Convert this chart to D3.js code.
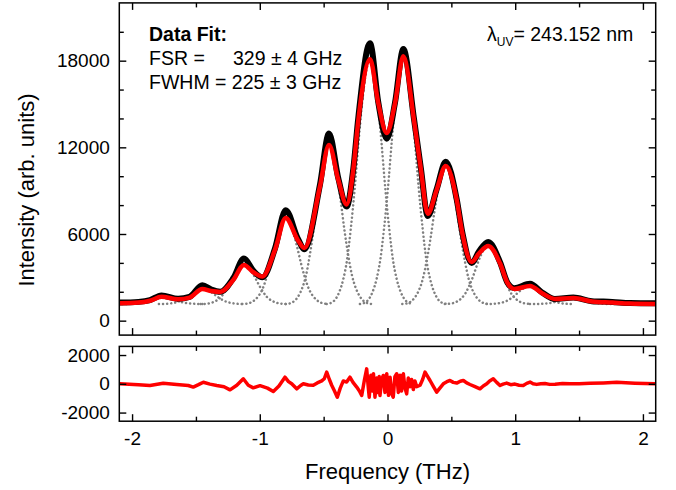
<!DOCTYPE html>
<html>
<head>
<meta charset="utf-8">
<script src="https://cdn.jsdelivr.net/npm/d3@7/dist/d3.min.js"></script>
<style>
    body { margin: 0; background: #ffffff; }
    svg { display: block; font-family: "Liberation Sans", Arial, sans-serif; }
    .tick line { stroke: #000; stroke-width: 1.4; }
</style>
</head>
<body>
<div id="chart"></div>
<script>
// Values (frequency in THz, intensity in counts)
const freqTHz = [-2.10, -1.95, -1.86, -1.77, -1.64, -1.55, -1.45, -1.38, -1.31, -1.207, -1.124, -1.05, -0.98,
    -0.881, -0.797, -0.703, -0.651, -0.529, -0.458, -0.385, -0.32, -0.268, -0.228, -0.137, -0.072, -0.006,
    0.059, 0.124, 0.207, 0.262, 0.315, 0.385, 0.456, 0.542, 0.586, 0.659, 0.717, 0.789, 0.881, 0.941, 0.993,
    1.116, 1.21, 1.31, 1.455, 1.6, 1.76, 1.9, 2.1];

const dataCounts = [1250, 1300, 1420, 1750, 1520, 1650, 2450, 2150, 2000, 2950, 4300, 3450, 3000,
    5000, 7650, 5700, 4950, 9400, 12950, 9850, 7900, 10500, 14100, 19200, 15100, 12600,
    15100, 18800, 14000, 10500, 7250, 9100, 11000, 8400, 6100, 4000, 4800, 5450, 4050, 2600, 2250,
    2550, 1950, 1500, 1600, 1350, 1300, 1220, 1200];

const fitCounts = [1200, 1250, 1380, 1650, 1480, 1600, 2200, 2050, 1990, 2820, 3860, 3350, 3050,
    4900, 7110, 5590, 5030, 9280, 12160, 9740, 8050, 10430, 13900, 18100, 15050, 13000,
    15050, 18300, 13900, 10430, 7400, 9050, 10710, 8360, 6050, 4060, 4665, 5170, 3970, 2590, 2190,
    2400, 1900, 1500, 1570, 1330, 1250, 1180, 1150];

// single fitted lines (dotted)
const peakCenters = [-1.77, -1.45, -1.124, -0.797, -0.458, -0.137, 0.124, 0.456, 0.789, 1.116, 1.455];
const peakHeights = [1650, 2200, 3860, 7110, 12160, 18100, 18300, 10710, 5170, 2400, 1570];
const baselineCounts = 1150;
const profileOffset = [-0.34, -0.30, -0.27, -0.24, -0.21, -0.18, -0.15, -0.12, -0.09, -0.06, -0.03, 0,
    0.03, 0.06, 0.09, 0.12, 0.15, 0.18, 0.21, 0.24, 0.27, 0.30, 0.34];
const profileFraction = [0, 0.006, 0.02, 0.05, 0.10, 0.18, 0.31, 0.47, 0.66, 0.83, 0.95, 1,
    0.95, 0.83, 0.66, 0.47, 0.31, 0.18, 0.10, 0.05, 0.02, 0.006, 0];

// residuals (data - fit)
const residualFreq = [-2.095, -1.95, -1.86, -1.756, -1.651, -1.56, -1.521, -1.48, -1.442, -1.39, -1.337, -1.28,
    -1.233, -1.18, -1.129, -1.09, -1.051, -0.998, -0.94, -0.894, -0.85, -0.803, -0.775, -0.75, -0.711,
    -0.68, -0.659, -0.62, -0.581, -0.55, -0.515, -0.495, -0.476, -0.455, -0.437, -0.415, -0.393, -0.37,
    -0.346, -0.32, -0.294, -0.27, -0.241, -0.22, -0.202, -0.18, -0.163, -0.15, -0.143, -0.13, -0.121,
    -0.11, -0.098, -0.085, -0.078, -0.065, -0.059, -0.045, -0.033, -0.02, -0.006, 0.008, 0.02, 0.033,
    0.045, 0.058, 0.072, 0.085, 0.098, 0.11, 0.124, 0.137, 0.15, 0.163, 0.176, 0.189, 0.202, 0.215,
    0.229, 0.255, 0.275, 0.294, 0.315, 0.333, 0.36, 0.385, 0.41, 0.437, 0.465, 0.489, 0.515, 0.542,
    0.57, 0.594, 0.62, 0.646, 0.685, 0.724, 0.75, 0.777, 0.8, 0.828, 0.855, 0.881, 0.905, 0.933, 0.965,
    0.998, 1.03, 1.063, 1.09, 1.116, 1.14, 1.168, 1.2, 1.233, 1.27, 1.312, 1.37, 1.429, 1.5, 1.586,
    1.69, 1.795, 1.938, 2.095];
const residualCounts = [0, -60, -120, 40, -50, -120, -230, -60, 110, -20, -120, -200,
    -420, -100, 350, -100, -280, -130, -300, -530, -150, 460, 150, 0, -350,
    -120, 0, -80, -100, 60, 200, 350, 810, 300, -100, -500, -930, -300,
    200, 120, 460, 100, -230, -500, -810, 300, 1040, -300, -930, 600, -500,
    700, -930, 400, -600, 500, -810, 300, 580, -600, 700, -800, 460, -700,
    -930, 500, 700, -600, 600, -500, 700, -300, -700, 400, -200, 300, -400, 200,
    -200, -100, 300, 810, 500, 230, -200, -580, -300, 0, 150, 230, 100, 50,
    180, 230, 60, -50, -200, -350, -150, 0, 200, 350, 100, -120, -20, 50, -60,
    -20, -100, -120, 30, 120, 0, -40, 10, 20, -40, -30, 20, 10, 0, 40,
    60, 100, 40, 0];

const xTicks = [-2, -1, 0, 1, 2];
const xMinorTicks = [-1.5, -0.5, 0.5, 1.5];
const yTicks = [0, 6000, 12000, 18000];
const yMinorTicks = [2000, 4000, 8000, 10000, 14000, 16000, 20000];
const residualTicks = [-2000, 0, 2000];

const width = 676;
const height = 490;
const left = 119.3;
const right = 655.7;
const main = { top: 2.9, bottom: 335.1 };
const resid = { top: 346.4, bottom: 421.2 };

const svg = d3.select('#chart')
    .append('svg')
    .attr('width', width)
    .attr('height', height);

const x = d3.scaleLinear().domain([-2.1, 2.1]).range([left, right]);
const y = d3.scaleLinear().domain([-1000, 22000]).range([main.bottom, main.top]);
const yRes = d3.scaleLinear().domain([-2600, 2600]).range([resid.bottom, resid.top]);

const defs = svg.append('defs');
defs.append('clipPath').attr('id', 'clip-main')
    .append('rect')
    .attr('x', left).attr('y', main.top)
    .attr('width', right - left).attr('height', main.bottom - main.top);
defs.append('clipPath').attr('id', 'clip-res')
    .append('rect')
    .attr('x', left).attr('y', resid.top)
    .attr('width', right - left).attr('height', resid.bottom - resid.top);

// main panel curves
const plot = svg.append('g').attr('clip-path', 'url(#clip-main)');

const compLine = d3.line()
    .x((d) => x(d[0]))
    .y((d) => y(d[1]))
    .curve(d3.curveMonotoneX);

peakCenters.forEach((center, i) => {
    const points = profileOffset.map((off, j) => [
        center + off,
        baselineCounts + profileFraction[j] * (peakHeights[i] - baselineCounts),
    ]);
    plot.append('path')
        .attr('d', compLine(points))
        .attr('fill', 'none')
        .attr('stroke', '#808080')
        .attr('stroke-width', 2.5)
        .attr('stroke-linecap', 'round')
        .attr('stroke-dasharray', '0.1 4');
});

const spectrum = d3.line()
    .x((d, i) => x(freqTHz[i]))
    .y((d) => y(d))
    .curve(d3.curveMonotoneX);

plot.append('path')
    .attr('d', spectrum(dataCounts))
    .attr('fill', 'none')
    .attr('stroke', '#000000')
    .attr('stroke-width', 6)
    .attr('stroke-linejoin', 'round');

plot.append('path')
    .attr('d', spectrum(fitCounts))
    .attr('fill', 'none')
    .attr('stroke', '#ff0000')
    .attr('stroke-width', 4.5)
    .attr('stroke-linejoin', 'round');

// residual panel
const resLine = d3.line()
    .x((d, i) => x(residualFreq[i]))
    .y((d) => yRes(d));

svg.append('g').attr('clip-path', 'url(#clip-res)')
    .append('path')
    .attr('d', resLine(residualCounts))
    .attr('fill', 'none')
    .attr('stroke', '#ff0000')
    .attr('stroke-width', 3.5)
    .attr('stroke-linejoin', 'round');

// axes: inward ticks on all four sides
function addAxis(axis, tx, ty) {
    const g = svg.append('g')
        .attr('transform', `translate(${tx}, ${ty})`)
        .call(axis);
    g.select('.domain').remove();
    g.selectAll('text')
        .attr('fill', '#000')
        .style('font-size', '19px');
    return g;
}

const noLabel = () => '';
const plainNumber = (d) => (d < 0 ? '-' : '') + Math.abs(d);

function frameAxes(yScale, top, bottom, majors, minors, showX) {
    addAxis(d3.axisTop(x).tickValues(xTicks).tickSize(-7).tickFormat(noLabel), 0, top);
    addAxis(d3.axisTop(x).tickValues(xMinorTicks).tickSize(-4.5).tickFormat(noLabel), 0, top);

    addAxis(d3.axisBottom(x).tickValues(xTicks).tickSize(-7).tickPadding(10.5)
        .tickFormat(showX ? plainNumber : noLabel), 0, bottom);
    addAxis(d3.axisBottom(x).tickValues(xMinorTicks).tickSize(-4.5).tickFormat(noLabel), 0, bottom);

    addAxis(d3.axisLeft(yScale).tickValues(majors).tickSize(-7).tickPadding(9.5)
        .tickFormat(plainNumber), left, 0);
    addAxis(d3.axisRight(yScale).tickValues(majors).tickSize(-7).tickFormat(noLabel), right, 0);

    if (minors.length) {
        addAxis(d3.axisLeft(yScale).tickValues(minors).tickSize(-4.5).tickFormat(noLabel), left, 0);
        addAxis(d3.axisRight(yScale).tickValues(minors).tickSize(-4.5).tickFormat(noLabel), right, 0);
    }

    svg.append('rect')
        .attr('x', left).attr('y', top)
        .attr('width', right - left).attr('height', bottom - top)
        .attr('fill', 'none')
        .attr('stroke', '#000')
        .attr('stroke-width', 1.5);
}

frameAxes(y, main.top, main.bottom, yTicks, yMinorTicks, false);
frameAxes(yRes, resid.top, resid.bottom, residualTicks, [], true);

// axis titles
svg.append('text')
    .attr('x', x(0))
    .attr('y', 479)
    .attr('text-anchor', 'middle')
    .style('font-size', '22px')
    .text('Frequency (THz)');

svg.append('text')
    .attr('transform', 'translate(34, 190) rotate(-90)')
    .attr('text-anchor', 'middle')
    .style('font-size', '22px')
    .text('Intensity (arb. units)');

// annotations
const notes = svg.append('g').style('font-size', '19.5px');
notes.append('text').attr('x', 149).attr('y', 41)
    .style('font-weight', 'bold').text('Data Fit:');
notes.append('text').attr('x', 149).attr('y', 65).text('FSR =');
notes.append('text').attr('x', 233).attr('y', 65).text('329 \u00b1 4 GHz');
notes.append('text').attr('x', 149).attr('y', 89).text('FWHM = 225 \u00b1 3 GHz');

const lambda = notes.append('text').attr('x', 487).attr('y', 41);
lambda.append('tspan').text('\u03bb');
lambda.append('tspan').attr('dy', 5).style('font-size', '12px').text('UV');
lambda.append('tspan').attr('dy', -5).text('= 243.152 nm');
</script>
</body>
</html>
